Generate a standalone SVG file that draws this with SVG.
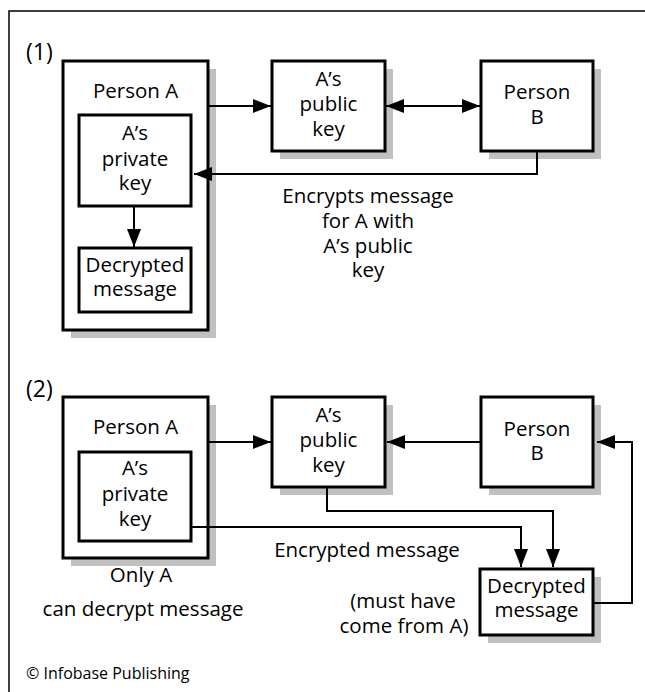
<svg xmlns="http://www.w3.org/2000/svg" width="645" height="692" viewBox="0 0 645 692">
<style>
text{font-family:"Open Sans","Noto Sans","Liberation Sans",sans-serif;font-size:20.5px;fill:#000;text-anchor:middle}
.l{text-anchor:start}
.n{font-size:23px}
.box{fill:#fff;stroke:#000;stroke-width:3}
.sh{fill:#c0c0c0}
.c{fill:none;stroke:#000;stroke-width:2}
.frame{fill:none;stroke:#000;stroke-width:1.5}
</style>
<defs>
<marker id="ah" markerUnits="userSpaceOnUse" markerWidth="18" markerHeight="14" refX="18" refY="7" orient="auto-start-reverse" viewBox="0 0 18 14">
<path d="M0,0 L18,7 L0,14 z" fill="#000"/>
</marker>
</defs>
<path class="frame" d="M9,692 V11 H645"/>
<text class="l n" x="26" y="60">(1)</text>
<text class="l n" x="26" y="397">(2)</text>

<g id="s1-personA">
<rect class="sh" x="71" y="69" width="145" height="269"/>
<rect class="box" x="63" y="61" width="145" height="269"/>
<text x="135.5" y="98">Person A</text>
</g>
<g id="s1-privkey">
<rect class="box" x="79" y="115" width="112" height="91"/>
<text x="135" y="140">A’s</text>
<text x="135" y="166">private</text>
<text x="135" y="190">key</text>
</g>
<g id="s1-decrypted">
<rect class="box" x="79" y="248" width="112" height="64"/>
<text x="135" y="272">Decrypted</text>
<text x="135" y="296">message</text>
</g>
<g id="s1-pubkey">
<rect class="sh" x="280" y="69" width="113" height="90"/>
<rect class="box" x="272" y="61" width="113" height="90"/>
<text x="328.5" y="86">A’s</text>
<text x="328.5" y="111">public</text>
<text x="328.5" y="136">key</text>
</g>
<g id="s1-personB">
<rect class="sh" x="489" y="69" width="112" height="90"/>
<rect class="box" x="481" y="61" width="112" height="90"/>
<text x="537" y="99">Person</text>
<text x="537" y="124">B</text>
</g>

<g id="s2-personA">
<rect class="sh" x="71" y="405" width="145" height="161"/>
<rect class="box" x="63" y="397" width="145" height="161"/>
<text x="135.5" y="434">Person A</text>
</g>
<g id="s2-privkey">
<rect class="box" x="79" y="452" width="112" height="89"/>
<text x="135" y="475">A’s</text>
<text x="135" y="501">private</text>
<text x="135" y="526">key</text>
</g>
<g id="s2-pubkey">
<rect class="sh" x="280" y="405" width="113" height="90"/>
<rect class="box" x="272" y="397" width="113" height="90"/>
<text x="328.5" y="422">A’s</text>
<text x="328.5" y="447">public</text>
<text x="328.5" y="472">key</text>
</g>
<g id="s2-personB">
<rect class="sh" x="489" y="405" width="112" height="90"/>
<rect class="box" x="481" y="397" width="112" height="90"/>
<text x="537" y="436">Person</text>
<text x="537" y="460">B</text>
</g>
<g id="s2-decrypted">
<rect class="sh" x="488" y="577" width="113" height="66"/>
<rect class="box" x="480" y="569" width="113" height="66"/>
<text x="536.5" y="593">Decrypted</text>
<text x="536.5" y="617">message</text>
</g>

<g id="connectors">
<path class="c" d="M209,106 H271" marker-end="url(#ah)"/>
<path class="c" d="M386,106 H480" marker-start="url(#ah)" marker-end="url(#ah)"/>
<path class="c" d="M537,152 V174 H194" marker-end="url(#ah)"/>
<path class="c" d="M134,207 V247" marker-end="url(#ah)"/>
<path class="c" d="M209,442 H271" marker-end="url(#ah)"/>
<path class="c" d="M481,442 H387" marker-end="url(#ah)"/>
<path class="c" d="M192,527 H521 V567" marker-end="url(#ah)"/>
<path class="c" d="M327,488 V511 H553 V567" marker-end="url(#ah)"/>
<path class="c" d="M594,603 H632 V442 H597" marker-end="url(#ah)"/>
</g>

<g id="labels">
<text x="368" y="203">Encrypts message</text>
<text x="368" y="228">for A with</text>
<text x="368" y="253">A’s public</text>
<text x="368" y="277">key</text>
<text x="367" y="557">Encrypted message</text>
<text x="403" y="608">(must have</text>
<text x="404" y="633">come from A)</text>
<text x="141" y="582">Only A</text>
<text x="143" y="616">can decrypt message</text>
<text class="l" x="26" y="679" style="font-size:16px">© Infobase Publishing</text>
</g>
</svg>
